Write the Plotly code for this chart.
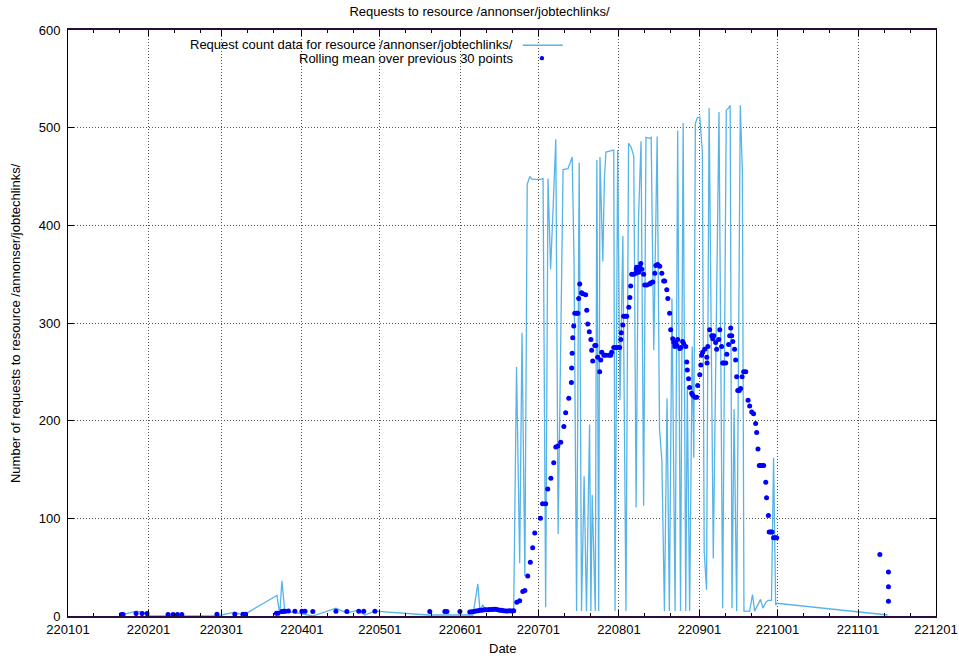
import numpy as np
import pandas as pd
import plotly.graph_objects as go

# ---------------- data (x = day of year 2022, Jan 1 = 1) ----------------
count_day = [21.4, 27.2, 31.4, 32.5, 58.3, 65.2, 68.3, 69.8, 81.4, 82.5, 83.3, 84.5, 87.5, 95.2,
             104.1, 108.3, 112.5, 115.2, 119.1, 139.5, 151.8, 156.8, 158.7, 159.5, 160.6, 161.8,
             165.2, 169.1, 171.0, 172.5, 173.6, 174.8, 175.7, 176.8, 177.7, 178.7, 179.6, 180.6,
             181.9, 182.9, 183.8, 184.8, 185.7, 186.7, 187.7, 188.7, 189.6, 191.5, 193.4, 195.0,
             195.7, 196.7, 197.7, 198.6, 199.6, 200.5, 201.7, 202.2, 202.7, 203.9, 204.5, 205.2,
             205.7, 206.8, 207.4, 208.0, 209.4, 211.0, 211.5, 212.5, 213.4, 214.5, 215.7, 216.7,
             217.7, 218.7, 219.6, 220.5, 221.5, 222.5, 223.4, 224.7, 225.4, 226.4, 227.7, 228.6,
             229.5, 230.5, 231.5, 232.4, 233.4, 234.6, 235.6, 236.7, 237.7, 238.7, 239.3, 240.2,
             241.2, 241.8, 242.4, 243.1, 244.1, 245.1, 245.8, 246.7, 247.7, 249.3, 251.5, 252.9,
             254.3, 255.2, 255.8, 256.5, 257.3, 258.3, 259.7, 260.5, 261.1, 263.3, 264.4, 265.2,
             267.5, 268.4, 269.5, 270.4, 271.7, 272.5, 273.3, 273.8, 316.4]
count_val = [1, 5, 3, 0, 0, 4, 1, 3, 21, 2, 36, 3, 4, 0,
             8, 3, 6, 1, 5, 1, 1, 1, 33, 6, 11, 6,
             6, 5, 5, 6, 255, 54, 290, 41, 442, 450, 447, 447,
             447, 447, 448, 9, 448, 355, 420, 488, 84, 457, 458, 470,
             367, 5, 464, 5, 143, 5, 196, 5, 124, 5, 467, 5,
             470, 363, 448, 475, 476, 477, 5, 477, 221, 389, 5, 484,
             480, 471, 111, 405, 486, 113, 490, 489, 490, 272, 491, 192,
             160, 5, 223, 5, 325, 5, 497, 5, 505, 5, 235, 5,
             276, 162, 504, 510, 511, 475, 66, 27, 520, 59, 516, 8,
             518, 520, 523, 8, 212, 5, 523, 453, 5, 5, 22, 5,
             17, 8, 14, 16, 16, 162, 11, 13, 1]

mean_day = [21.6, 22.2, 27.2, 29.5, 31.4, 39.5, 41.4, 43.1, 44.8, 58.3, 65.2, 68.3, 69.3,
            81.2, 81.8, 83.3, 83.9, 84.5, 85.8, 88.3, 91.0, 92.2, 95.2, 104.1, 108.3, 112.9,
            114.8, 119.1, 140.2, 146.0, 146.8, 151.8, 155.6, 156.4, 157.2, 158.0, 158.8, 159.5,
            160.3, 161.1, 161.8, 162.6, 163.3, 164.1, 164.8, 165.6, 166.4, 167.2, 167.9, 168.7,
            169.5, 170.3, 171.0, 171.8, 172.5,
            173.7, 174.8, 176.0, 176.8, 177.9, 178.9, 179.8, 180.6, 182.8, 183.6, 184.8, 185.6,
            186.8, 187.9, 188.7, 189.5, 190.6, 191.8, 192.5, 193.7, 194.7, 194.8, 195.0, 195.2,
            195.6, 196.0, 196.7, 197.2, 197.5, 197.9, 198.6, 199.1, 200.2, 200.6, 201.0, 201.6,
            202.2, 202.5, 202.9, 203.7, 204.1, 204.8, 205.6, 206.0, 206.4, 207.2, 207.9, 209.1,
            209.8, 210.2, 211.0, 211.8, 212.5, 213.3, 213.7, 213.9, 214.5, 214.8, 215.6, 216.0,
            216.8, 217.2, 217.5, 217.9, 218.7, 219.5, 219.7, 219.8, 220.6, 221.0, 221.4, 221.8,
            222.5, 222.9, 223.7, 224.8, 225.2, 226.0, 226.8, 227.2, 227.9, 228.7, 229.5, 230.2,
            230.6, 231.4, 231.8, 232.5, 232.9, 233.7, 234.1, 234.5, 234.8, 235.2, 235.6, 236.4,
            236.8, 237.5, 237.9, 238.7, 239.1, 239.3, 239.8, 240.2, 241.0, 241.4, 242.2, 242.9,
            243.3, 244.1, 244.5, 244.8, 245.2, 246.0, 246.8, 246.9, 247.2, 247.9, 248.7, 249.1,
            249.5, 250.2, 250.6, 251.4, 251.8, 252.5, 252.9, 253.3, 254.1, 254.5, 255.2, 255.6,
            256.0, 256.4, 256.8, 257.5, 257.9, 258.3, 258.7, 259.3, 259.8, 260.4, 261.0, 261.8,
            262.7, 263.3, 264.1, 264.8, 265.6, 266.0, 266.5, 267.0, 267.5, 268.1, 268.7, 269.5,
            269.8, 270.5, 270.8, 271.4, 271.9, 272.5, 273.1, 273.7, 313.4, 316.7, 316.7, 316.7]
mean_val = [1.5, 1.5, 2.5, 2.5, 2.5, 1.5, 1.5, 1.5, 1.5, 1.8, 1.8, 1.8, 1.8,
            2.8, 2.8, 4.5, 4.8, 4.8, 5.0, 4.8, 4.8, 4.8, 4.5, 4.8, 4.5, 4.8,
            4.8, 4.8, 4.5, 4.5, 4.5, 4.5, 4.0, 4.3, 4.5, 5.0, 5.5, 6.0,
            6.0, 6.3, 6.5, 6.5, 6.7, 6.7, 6.8, 6.8, 6.5, 6.0, 6.0, 5.5,
            5.0, 5.0, 5.5, 5.0, 5.5,
            14, 15.5, 25, 26, 41, 55, 70, 85, 100, 115, 115, 130,
            141, 157, 173, 174, 178, 194, 208, 223, 239, 254, 269, 285,
            297, 310, 310, 310, 325, 340, 331, 330, 329, 313, 299, 291,
            283, 272, 261, 277, 277, 265, 250, 262, 270, 267, 267, 267,
            267, 270, 275, 275, 275, 275, 283, 290, 298, 307, 307, 307,
            316, 326, 338, 350, 350, 351, 355, 357, 352, 357, 361, 355,
            350, 339, 339, 340, 341, 342, 351, 359, 360, 358, 351, 343,
            343, 334, 325, 310, 293, 284, 280, 276, 280, 277, 283, 274,
            275, 281, 279, 276, 260, 252, 243, 234, 228, 226, 224, 224,
            236, 247, 257, 267, 270, 273, 265, 259, 276, 293, 287, 284,
            287, 280, 273, 283, 293, 276, 259, 259, 259, 268, 278, 287,
            295, 287, 281, 273, 262, 245, 231, 231, 233, 245, 250, 250,
            221, 215, 209, 207, 197, 188, 171, 154, 154, 154, 154, 137,
            121, 103, 86, 86, 86, 80, 80, 80, 63, 45, 30, 15]

tick_labels = ["220101", "220201", "220301", "220401", "220501", "220601",
               "220701", "220801", "220901", "221001", "221101", "221201"]
y_ticks = [0, 100, 200, 300, 400, 500, 600]

title = "Requests to resource /annonser/jobtechlinks/"
ylabel = "Number of requests to resource /annonser/jobtechlinks/"
xlabel = "Date"
count_name = "Request count data for resource /annonser/jobtechlinks/"
mean_name = "Rolling mean over previous 30 points"

# ---------------- conversion ----------------
base = pd.Timestamp("2022-01-01")
count_x = base + pd.to_timedelta(np.array(count_day) - 1, unit="D")
mean_x = base + pd.to_timedelta(np.array(mean_day) - 1, unit="D")
tick_vals = pd.to_datetime(tick_labels, format="%y%m%d")
minor_vals = []
for t in tick_vals[:-1]:
    minor_vals.append(t + pd.Timedelta(days=10))
    minor_vals.append(t + pd.Timedelta(days=20))

LINE_C = "#56b4e9"
DOT_C = "#0000ff"
FONT = "Liberation Sans, Arial, sans-serif"
FS = 13

fig = go.Figure()
fig.add_trace(go.Scatter(x=count_x, y=count_val, mode="lines", name=count_name,
                         line=dict(color=LINE_C, width=1.3), hoverinfo="x+y"))
fig.add_trace(go.Scatter(x=mean_x, y=mean_val, mode="markers", name=mean_name,
                         marker=dict(color=DOT_C, size=5, line=dict(width=0))))

grid_dash = "1px,2px"
fig.update_layout(
    width=959, height=658, autosize=False,
    margin=dict(l=68, r=23, t=30, b=42, autoexpand=False),
    paper_bgcolor="white", plot_bgcolor="white",
    font=dict(family=FONT, size=FS, color="black"),
    showlegend=False,
    title=dict(text=title, x=0.5, xref="container", xanchor="center",
               y=1 - 11 / 658, yref="container", yanchor="middle",
               font=dict(size=FS)),
    xaxis=dict(
        type="date", automargin=False,
        range=[tick_vals[0], tick_vals[-1]],
        tickmode="array", tickvals=tick_vals, ticktext=tick_labels,
        ticks="inside", ticklen=6, tickcolor="black", tickwidth=1,
        showline=True, linecolor="#2a0c3c", linewidth=2, mirror="ticks",
        showgrid=True, gridcolor="#555555", griddash=grid_dash, gridwidth=1,
        zeroline=False,
        minor=dict(tickmode="array", tickvals=minor_vals, ticks="inside",
                   ticklen=3, tickcolor="black", showgrid=False),
        tickfont=dict(size=FS),
    ),
    yaxis=dict(
        automargin=False,
        range=[0, 600], tickmode="array", tickvals=y_ticks,
        ticks="inside", ticklen=6, tickcolor="black", tickwidth=1,
        showline=True, linecolor="black", linewidth=1, mirror="ticks",
        showgrid=True, gridcolor="#555555", griddash=grid_dash, gridwidth=1,
        zeroline=False, tickfont=dict(size=FS), ticklabelstandoff=4,
    ),
)

# white key box hiding grid lines behind the key
fig.add_shape(type="rect", xref="paper", yref="paper", x0=0.083, x1=0.578, y0=0.94, y1=0.998,
              fillcolor="white", line=dict(width=0), layer="between")
# key samples
fig.add_shape(type="line", xref="paper", yref="paper", x0=0.524, x1=0.570, y0=0.974, y1=0.974,
              line=dict(color=LINE_C, width=1.3))
fig.add_shape(type="circle", xref="paper", yref="paper", xsizemode="pixel", ysizemode="pixel",
              xanchor=0.546, yanchor=0.952, x0=-2.2, x1=2.2, y0=-2.2, y1=2.2,
              fillcolor=DOT_C, line=dict(width=0))
fig.add_annotation(text=count_name, xref="paper", yref="paper", x=0.515, y=0.975,
                   xanchor="right", yanchor="middle", showarrow=False, font=dict(size=FS))
fig.add_annotation(text=mean_name, xref="paper", yref="paper", x=0.515, y=0.951,
                   xanchor="right", yanchor="middle", showarrow=False, font=dict(size=FS))
# axis titles
fig.add_annotation(text=xlabel, xref="paper", yref="paper", x=0.5, y=-0.0563,
                   xanchor="center", yanchor="middle", showarrow=False, font=dict(size=FS))
fig.add_annotation(text=ylabel, xref="paper", yref="paper", x=-0.061, y=0.5, textangle=-90,
                   xanchor="center", yanchor="middle", showarrow=False, font=dict(size=FS))

fig.write_html("out.html",
               config=dict(displayModeBar=False, responsive=False),
               post_script="document.body.style.margin='0';document.body.style.overflow='hidden';")
